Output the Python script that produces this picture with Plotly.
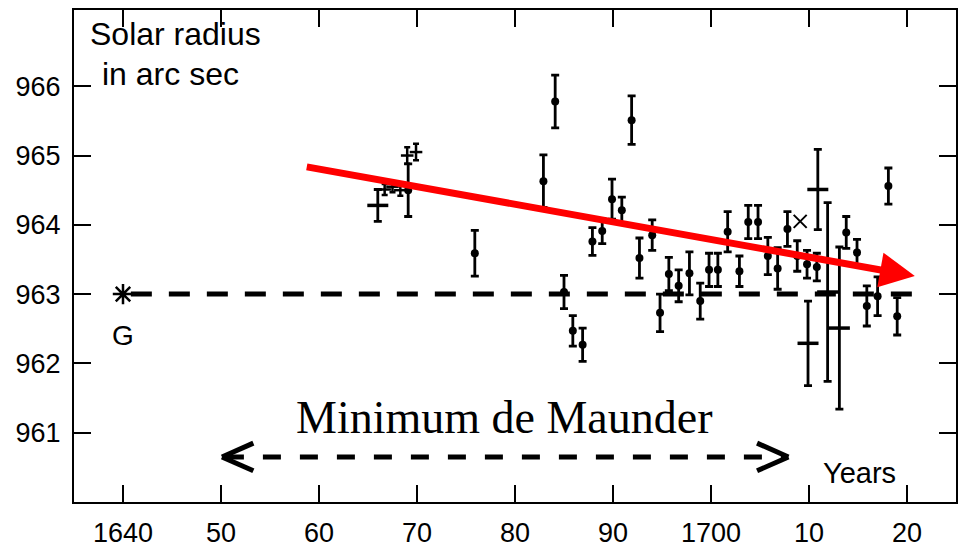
import plotly.graph_objects as go

# ---- data ----
years_dot = [1669.1, 1675.9, 1682.9, 1684.1, 1685.0, 1685.9, 1686.9, 1687.9, 1688.9, 1689.9,
             1690.9, 1691.9, 1692.7, 1694.0, 1694.8, 1695.7, 1696.7, 1697.8, 1698.9, 1699.8,
             1700.7, 1701.7, 1702.9, 1703.8, 1704.8, 1705.8, 1706.8, 1707.8, 1708.8, 1709.8,
             1710.8, 1713.8, 1714.9, 1715.9, 1717.0, 1718.1, 1719.0]
values_dot = [964.50, 963.59, 964.63, 965.78, 963.03, 962.47, 962.27, 963.76, 963.91, 964.37,
              964.21, 965.51, 963.52, 963.85, 962.73, 963.29, 963.12, 963.30, 962.90, 963.35,
              963.35, 963.90, 963.33, 964.04, 964.04, 963.55, 963.37, 963.94, 963.55, 963.43,
              963.39, 963.89, 963.60, 962.83, 962.97, 964.56, 962.68]
err_dot = [0.38, 0.33, 0.38, 0.38, 0.24, 0.22, 0.24, 0.20, 0.18, 0.29,
           0.19, 0.35, 0.29, 0.22, 0.27, 0.24, 0.23, 0.31, 0.26, 0.24,
           0.24, 0.29, 0.22, 0.24, 0.24, 0.27, 0.30, 0.25, 0.22, 0.20,
           0.20, 0.23, 0.19, 0.29, 0.28, 0.26, 0.27]

years_cross = [1666.0, 1709.9, 1710.9, 1711.9, 1713.1]
values_cross = [964.28, 962.29, 964.51, 963.03, 962.51]
err_cross = [0.23, 0.61, 0.58, 1.29, 1.17]

years_small = [1666.7, 1667.5, 1668.3, 1669.0, 1669.9]
values_small = [964.51, 964.55, 964.50, 965.00, 965.05]
err_small = [0.08, 0.08, 0.08, 0.12, 0.12]

years_star = [1709.1]
values_star = [964.05]

g_year = [1640]
g_value = [963.0]

ref_level = 963.0
ref_line_years = [1640.8, 1721.0]

trend_start = (1658.6, 964.84)
trend_end = (1720.8, 963.26)

maunder_start = 1650.1
maunder_end = 1707.9
maunder_level = 960.65

x_tickvals = [1640, 1650, 1660, 1670, 1680, 1690, 1700, 1710, 1720]
x_ticktext = ["1640", "50", "60", "70", "80", "90", "1700", "10", "20"]
y_tickvals = [961, 962, 963, 964, 965, 966]
y_ticktext = ["961", "962", "963", "964", "965", "966"]

SANS = "Liberation Sans, Arial, sans-serif"
SERIF = "Liberation Serif, Times New Roman, serif"

fig = go.Figure()

# reference dashed line at 963
fig.add_trace(go.Scatter(x=ref_line_years, y=[ref_level, ref_level], mode="lines",
                         line=dict(color="black", width=5, dash="21px,17px"),
                         hoverinfo="skip", showlegend=False))

err_style = dict(type="data", color="black", thickness=2.8, width=4)

fig.add_trace(go.Scatter(x=years_dot, y=values_dot, mode="markers",
                         marker=dict(color="black", size=8),
                         error_y=dict(array=err_dot, **err_style), showlegend=False))

fig.add_trace(go.Scatter(x=years_cross, y=values_cross, mode="markers",
                         marker=dict(symbol="line-ew-open", size=15, color="black",
                                     line=dict(color="black", width=3.5)),
                         error_y=dict(array=err_cross, **err_style), showlegend=False))

fig.add_trace(go.Scatter(x=years_small, y=values_small, mode="markers",
                         marker=dict(symbol="line-ew-open", size=9, color="black",
                                     line=dict(color="black", width=2.5)),
                         error_y=dict(array=err_small, type="data", color="black",
                                      thickness=2.5, width=3), showlegend=False))

fig.add_trace(go.Scatter(x=years_star, y=values_star, mode="markers",
                         marker=dict(symbol="x-thin-open", size=13, color="black",
                                     line=dict(color="black", width=2)),
                         showlegend=False))

fig.add_trace(go.Scatter(x=g_year, y=g_value, mode="markers",
                         marker=dict(symbol="asterisk-open", size=17, color="black",
                                     line=dict(color="black", width=2.5)),
                         showlegend=False))

# red trend arrow
fig.add_annotation(x=trend_end[0], y=trend_end[1], ax=trend_start[0], ay=trend_start[1],
                   xref="x", yref="y", axref="x", ayref="y", text="", showarrow=True,
                   arrowhead=2, arrowsize=1, arrowwidth=7, arrowcolor="red", standoff=0)

# Maunder minimum dashed double arrow
fig.add_shape(type="line", x0=maunder_start + 0.4, x1=maunder_end - 0.4,
              y0=maunder_level, y1=maunder_level, xref="x", yref="y",
              line=dict(color="black", width=5, dash="18px,19px"))
arm_dx = 3.2
arm_dy = 0.2
for tip, sgn in [(maunder_start, 1), (maunder_end, -1)]:
    for d in (1, -1):
        fig.add_shape(type="line", x0=tip, y0=maunder_level,
                      x1=tip + sgn * arm_dx, y1=maunder_level + d * arm_dy,
                      xref="x", yref="y", line=dict(color="black", width=5))

fig.add_annotation(x=(maunder_start + maunder_end) / 2 - 0.1, y=961.22, xref="x", yref="y",
                   text="Minimum de Maunder", showarrow=False,
                   font=dict(family=SERIF, size=46, color="black"))

fig.add_annotation(x=1636.4, y=966.75, xref="x", yref="y", text="Solar radius",
                   showarrow=False, xanchor="left", yanchor="middle",
                   font=dict(family=SANS, size=32, color="black"))
fig.add_annotation(x=1637.7, y=966.17, xref="x", yref="y", text="in arc sec",
                   showarrow=False, xanchor="left", yanchor="middle",
                   font=dict(family=SANS, size=32, color="black"))
fig.add_annotation(x=1640, y=962.4, xref="x", yref="y", text="G",
                   showarrow=False, font=dict(family=SANS, size=28, color="black"))
fig.add_annotation(x=1715.2, y=960.42, xref="x", yref="y", text="Years",
                   showarrow=False, font=dict(family=SANS, size=29, color="black"))

axis_common = dict(showline=True, linecolor="black", linewidth=2, mirror="ticks",
                   ticks="inside", ticklen=17, tickwidth=2, tickcolor="black",
                   showgrid=False, zeroline=False, automargin=False,
                   tickfont=dict(family=SANS, size=27, color="black"))

fig.update_xaxes(range=[1635, 1725], tickmode="array", tickvals=x_tickvals,
                 ticktext=x_ticktext, ticklabelstandoff=6, **axis_common)
fig.update_yaxes(range=[960, 967.1], tickmode="array", tickvals=y_tickvals,
                 ticktext=y_ticktext, ticklabelstandoff=6, **axis_common)

fig.update_layout(width=958, height=550, margin=dict(l=74, r=2, t=10, b=48),
                  paper_bgcolor="white", plot_bgcolor="white", showlegend=False)

fig.write_html("out.html", config={"displayModeBar": False},
               post_script="document.body.style.margin='0px';document.body.style.overflow='hidden';")
